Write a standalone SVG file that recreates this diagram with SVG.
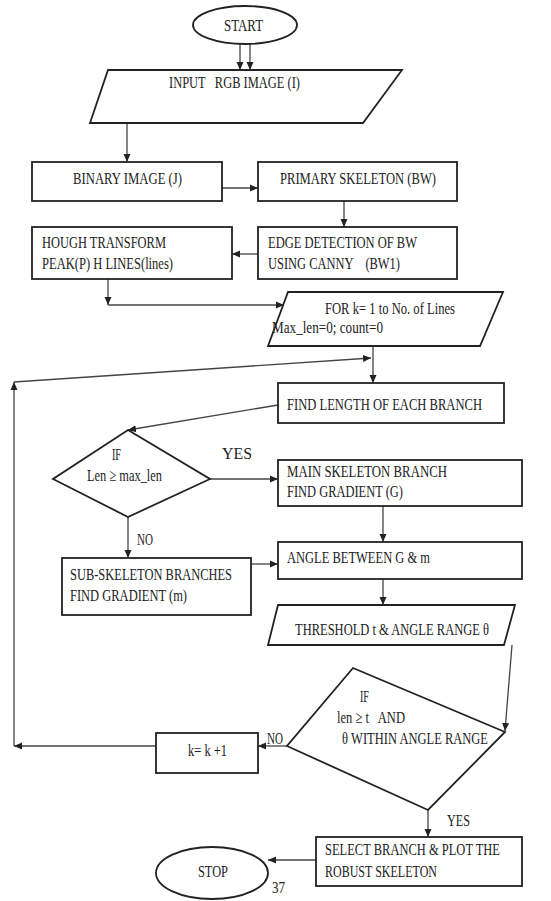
<svg xmlns="http://www.w3.org/2000/svg" width="551" height="901" viewBox="0 0 551 901">
<style>
.n{fill:#fff;stroke:#222;stroke-width:1.8}
.c line{stroke:#444;stroke-width:1.3;fill:none}
text{font-family:"Liberation Serif","DejaVu Serif",serif;font-size:13.5px;fill:#222;white-space:pre}
</style>
<defs>
<marker id="a" markerUnits="userSpaceOnUse" markerWidth="9" markerHeight="8" refX="8" refY="4" orient="auto">
<path d="M0,0.5 L8,4 L0,7.5 Z" fill="#222"/>
</marker>
</defs>
<rect width="551" height="901" fill="#fff"/>
<g class="c" id="connectors">
<line x1="240" y1="44" x2="240" y2="70" marker-end="url(#a)"/>
<line x1="250" y1="44" x2="250" y2="70" marker-end="url(#a)"/>
<line x1="127" y1="123" x2="127" y2="162" marker-end="url(#a)"/>
<line x1="222" y1="188" x2="258" y2="188" marker-end="url(#a)"/>
<line x1="344" y1="201" x2="344" y2="227" marker-end="url(#a)"/>
<line x1="258" y1="254" x2="232" y2="254" marker-end="url(#a)"/>
<line x1="108" y1="279" x2="108" y2="305" marker-end="url(#a)"/>
<line x1="108" y1="305" x2="284" y2="305" marker-end="url(#a)"/>
<line x1="373" y1="346" x2="373" y2="383" marker-end="url(#a)"/>
<line x1="14" y1="746" x2="14" y2="382" marker-end="url(#a)"/>
<line x1="14" y1="382" x2="371" y2="358" marker-end="url(#a)"/>
<line x1="278" y1="405" x2="128" y2="430" marker-end="url(#a)"/>
<line x1="210" y1="479" x2="278" y2="479" marker-end="url(#a)"/>
<line x1="383" y1="506" x2="383" y2="542" marker-end="url(#a)"/>
<line x1="128" y1="517" x2="128" y2="558" marker-end="url(#a)"/>
<line x1="251" y1="564" x2="278" y2="564" marker-end="url(#a)"/>
<line x1="383" y1="579" x2="383" y2="605" marker-end="url(#a)"/>
<line x1="512" y1="645" x2="505" y2="731" marker-end="url(#a)"/>
<line x1="287" y1="746" x2="258" y2="746" marker-end="url(#a)"/>
<line x1="156" y1="746" x2="14" y2="746" marker-end="url(#a)"/>
<line x1="428" y1="810" x2="428" y2="837" marker-end="url(#a)"/>
<line x1="316" y1="860" x2="268" y2="860" marker-end="url(#a)"/>
<text transform="translate(222,459) scale(1,1.3)" textLength="30" lengthAdjust="spacingAndGlyphs">YES</text>
<text transform="translate(137,545) scale(1,1.3)" textLength="16" lengthAdjust="spacingAndGlyphs">NO</text>
<text transform="translate(267,744) scale(1,1.3)" textLength="16" lengthAdjust="spacingAndGlyphs">NO</text>
<text transform="translate(447,826) scale(1,1.3)" textLength="23" lengthAdjust="spacingAndGlyphs">YES</text>
</g>
<g id="start"><ellipse class="n" cx="245" cy="25" rx="52" ry="19"/>
<text transform="translate(224,31) scale(1,1.3)" textLength="39" lengthAdjust="spacingAndGlyphs">START</text></g>
<g id="input"><polygon class="n" points="108,70 402,70 363,123 90,123"/>
<text transform="translate(169,88) scale(1,1.3)" textLength="131" lengthAdjust="spacingAndGlyphs">INPUT   RGB IMAGE (I)</text></g>
<g id="binary"><rect class="n" x="32" y="162" width="190" height="39"/>
<text transform="translate(73,184) scale(1,1.3)" textLength="109" lengthAdjust="spacingAndGlyphs">BINARY IMAGE (J)</text></g>
<g id="primary"><rect class="n" x="258" y="162" width="199" height="39"/>
<text transform="translate(280,184) scale(1,1.3)" textLength="156" lengthAdjust="spacingAndGlyphs">PRIMARY SKELETON (BW)</text></g>
<g id="hough"><rect class="n" x="32" y="227" width="200" height="52"/>
<text transform="translate(42,248) scale(1,1.3)" textLength="124" lengthAdjust="spacingAndGlyphs">HOUGH TRANSFORM</text>
<text transform="translate(42,269) scale(1,1.3)" textLength="131" lengthAdjust="spacingAndGlyphs">PEAK(P) H LINES(lines)</text></g>
<g id="edge"><rect class="n" x="258" y="227" width="199" height="52"/>
<text transform="translate(268,248) scale(1,1.3)" textLength="149" lengthAdjust="spacingAndGlyphs">EDGE DETECTION OF BW</text>
<text transform="translate(268,269) scale(1,1.3)" textLength="132" lengthAdjust="spacingAndGlyphs">USING CANNY    (BW1)</text></g>
<g id="for"><polygon class="n" points="288,292 503,292 480,346 268,346"/>
<text transform="translate(325,314) scale(1,1.3)" textLength="130" lengthAdjust="spacingAndGlyphs">FOR k= 1 to No. of Lines</text>
<text transform="translate(272,333) scale(1,1.3)" textLength="111" lengthAdjust="spacingAndGlyphs">Max_len=0; count=0</text></g>
<g id="findlen"><rect class="n" x="278" y="383" width="226" height="40"/>
<text transform="translate(287,410) scale(1,1.3)" textLength="195" lengthAdjust="spacingAndGlyphs">FIND LENGTH OF EACH BRANCH</text></g>
<g id="if1"><polygon class="n" points="128,430 210,479 128,517 53,479"/>
<text transform="translate(112,460) scale(1,1.3)" textLength="9" lengthAdjust="spacingAndGlyphs">IF</text>
<text transform="translate(87,481) scale(1,1.3)" textLength="75" lengthAdjust="spacingAndGlyphs">Len ≥ max_len</text></g>
<g id="main"><rect class="n" x="278" y="460" width="244" height="46"/>
<text transform="translate(287,477) scale(1,1.3)" textLength="160" lengthAdjust="spacingAndGlyphs">MAIN SKELETON BRANCH</text>
<text transform="translate(287,497) scale(1,1.3)" textLength="116" lengthAdjust="spacingAndGlyphs">FIND GRADIENT (G)</text></g>
<g id="angle"><rect class="n" x="278" y="542" width="244" height="37"/>
<text transform="translate(287,563) scale(1,1.3)" textLength="143" lengthAdjust="spacingAndGlyphs">ANGLE BETWEEN G &amp; m</text></g>
<g id="sub"><rect class="n" x="62" y="558" width="189" height="57"/>
<text transform="translate(70,580) scale(1,1.3)" textLength="162" lengthAdjust="spacingAndGlyphs">SUB-SKELETON BRANCHES</text>
<text transform="translate(70,601) scale(1,1.3)" textLength="117" lengthAdjust="spacingAndGlyphs">FIND GRADIENT (m)</text></g>
<g id="threshold"><polygon class="n" points="278,605 515,605 504,645 268,645"/>
<text transform="translate(295,635) scale(1,1.3)" textLength="194" lengthAdjust="spacingAndGlyphs">THRESHOLD t &amp; ANGLE RANGE θ</text></g>
<g id="if2"><polygon class="n" points="353,668 505,732 428,810 287,746"/>
<text transform="translate(360,702) scale(1,1.3)" textLength="9" lengthAdjust="spacingAndGlyphs">IF</text>
<text transform="translate(337,723) scale(1,1.3)" textLength="68" lengthAdjust="spacingAndGlyphs">len ≥ t   AND</text>
<text transform="translate(342,744) scale(1,1.3)" textLength="146" lengthAdjust="spacingAndGlyphs">θ WITHIN ANGLE RANGE</text></g>
<g id="incr"><rect class="n" x="156" y="733" width="102" height="40"/>
<text transform="translate(188,756) scale(1,1.3)" textLength="39" lengthAdjust="spacingAndGlyphs">k= k +1</text></g>
<g id="select"><rect class="n" x="316" y="837" width="206" height="49"/>
<text transform="translate(325,855) scale(1,1.3)" textLength="175" lengthAdjust="spacingAndGlyphs">SELECT BRANCH &amp; PLOT THE</text>
<text transform="translate(325,877) scale(1,1.3)" textLength="112" lengthAdjust="spacingAndGlyphs">ROBUST SKELETON</text></g>
<g id="stop"><ellipse class="n" cx="212" cy="873" rx="56" ry="26"/>
<text transform="translate(198,877) scale(1,1.3)" textLength="30" lengthAdjust="spacingAndGlyphs">STOP</text></g>
<text transform="translate(272,893) scale(1,1.3)" textLength="13" lengthAdjust="spacingAndGlyphs">37</text>
</svg>
